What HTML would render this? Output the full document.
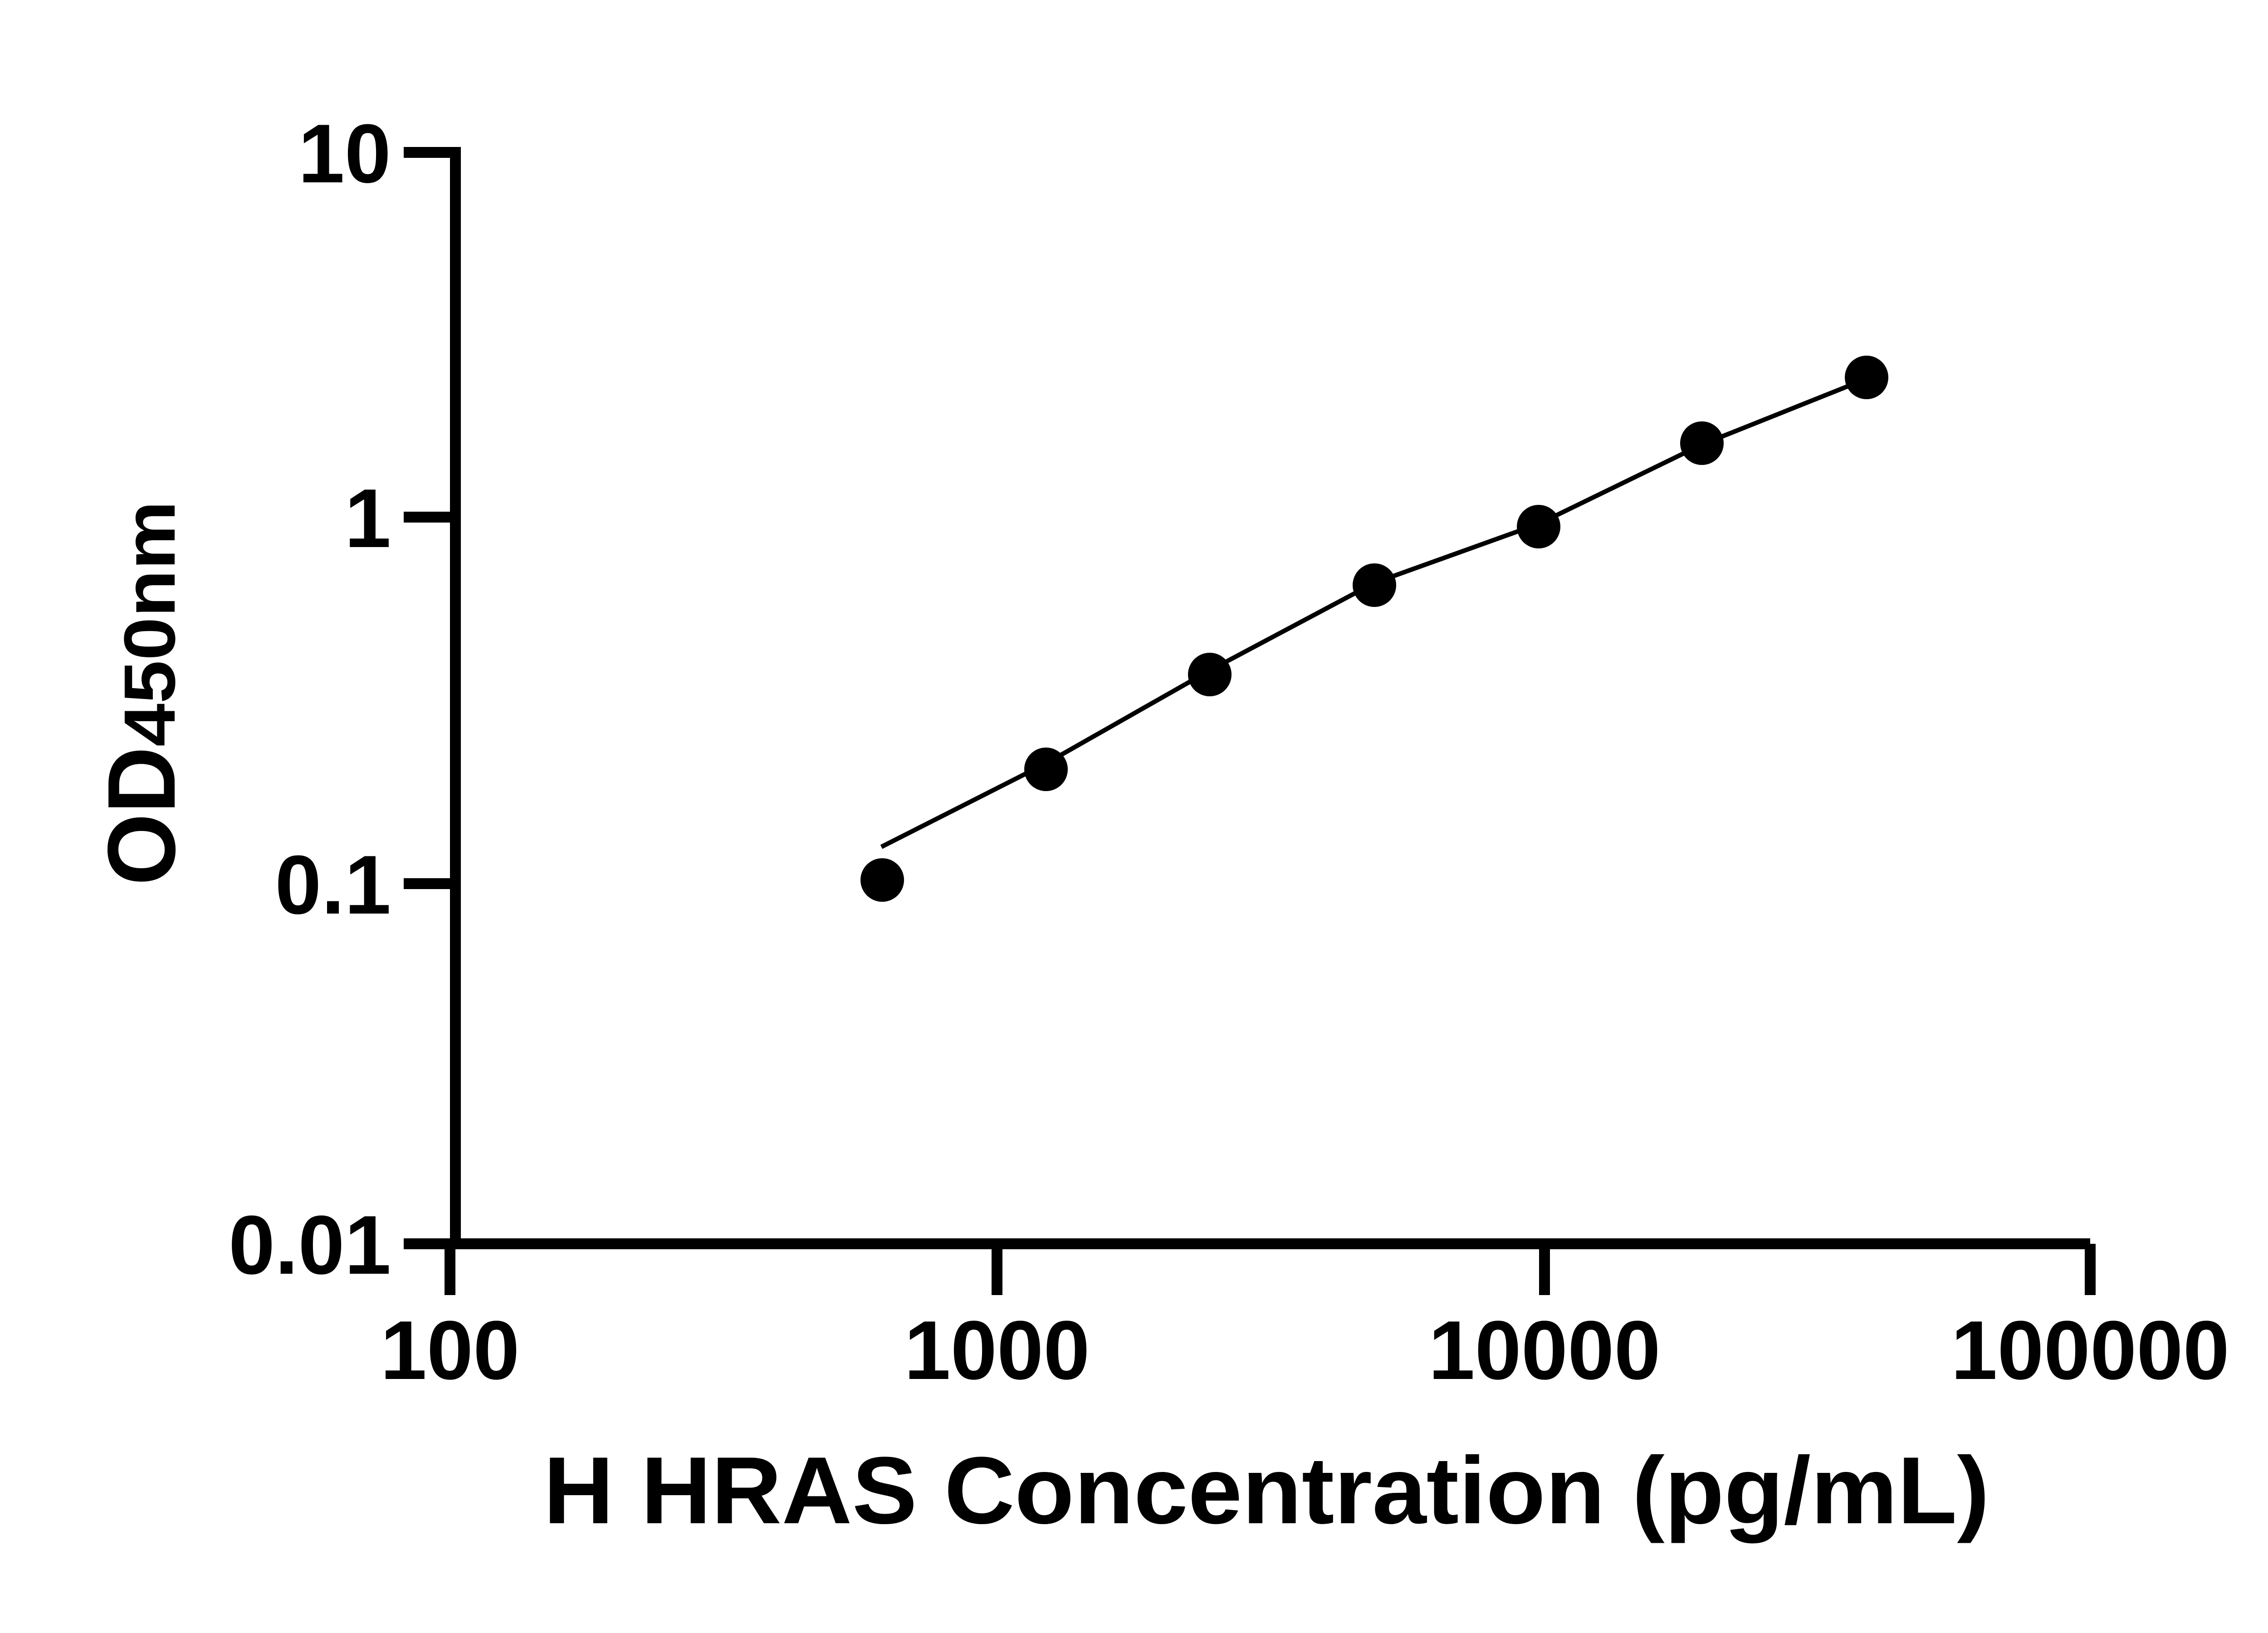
<!DOCTYPE html>
<html><head><meta charset="utf-8"><style>html,body{margin:0;padding:0;background:#fff}svg{display:block}</style></head>
<body>
<svg width="5142" height="3600" viewBox="0 0 5142 3600" xmlns="http://www.w3.org/2000/svg">
<rect width="5142" height="3600" fill="#fff"/>
<g stroke="#000" stroke-width="24" fill="none" stroke-linecap="butt">
<path d="M890 336 H1004 V2742 H4608"/>
<path d="M890 1140 H992 M890 1948 H992 M890 2742 H992"/>
<path d="M992 2742 V2855 M2198 2742 V2855 M3405 2742 V2855 M4608 2742 V2855"/>
</g>
<polyline fill="none" stroke="#000" stroke-width="10" points="1943,1867 2306,1683 2667,1478 3030,1285 3392,1155 3752,980 4115,835"/>
<g fill="#000">
<circle cx="1945" cy="1940" r="48"/>
<circle cx="2306" cy="1696" r="48"/>
<circle cx="2667" cy="1487" r="48"/>
<circle cx="3030" cy="1290" r="48"/>
<circle cx="3392" cy="1161" r="48"/>
<circle cx="3752" cy="977" r="48"/>
<circle cx="4115" cy="832" r="48"/>
</g>
<g font-family="Liberation Sans, Arial, sans-serif" font-weight="bold" font-size="184" fill="#000">
<g text-anchor="end">
<text x="862" y="402">10</text>
<text x="862" y="1206">1</text>
<text x="862" y="2014">0.1</text>
<text x="862" y="2808">0.01</text>
</g>
<g text-anchor="middle">
<text x="992" y="3040">100</text>
<text x="2198" y="3040">1000</text>
<text x="3405" y="3040">10000</text>
<text x="4608" y="3040">100000</text>
</g>
<text x="1198" y="3358" font-size="210" textLength="3188" lengthAdjust="spacingAndGlyphs">H HRAS Concentration (pg/mL)</text>
<text transform="translate(385,1952) rotate(-90)" font-size="212" textLength="306" lengthAdjust="spacingAndGlyphs">OD</text>
<text transform="translate(385,1646) rotate(-90)" font-size="160" textLength="542" lengthAdjust="spacingAndGlyphs">450nm</text>
</g>
</svg>
</body></html>
